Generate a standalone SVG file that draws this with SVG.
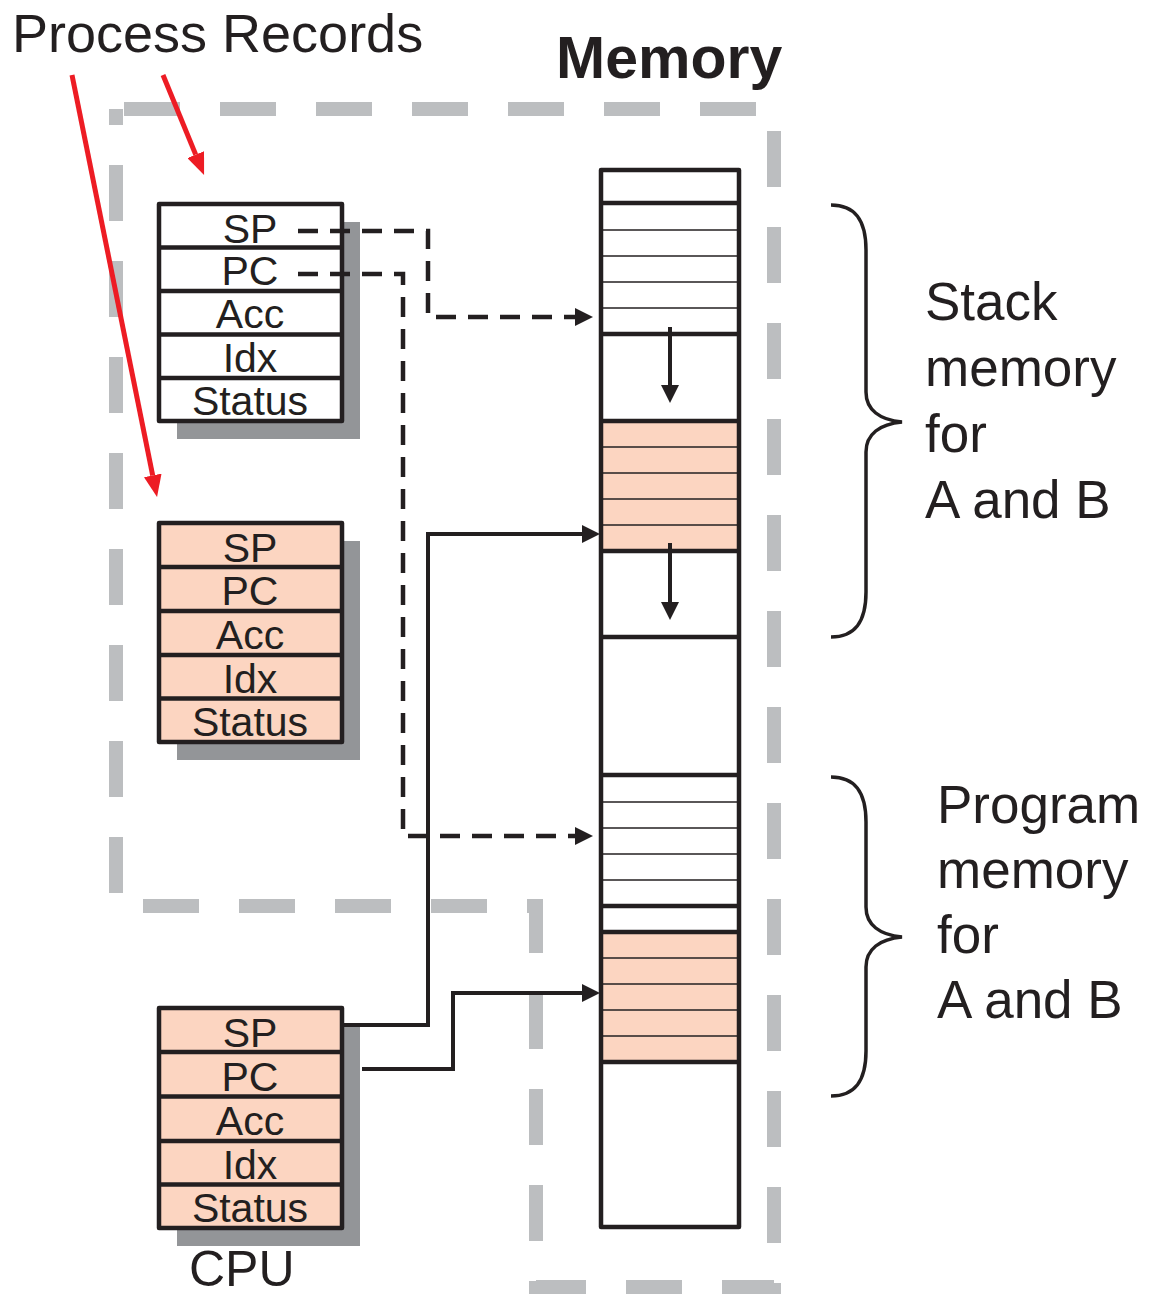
<svg xmlns="http://www.w3.org/2000/svg" width="1152" height="1299" viewBox="0 0 1152 1299">
<style>
.bg{fill:#ffffff}
.border{fill:none;stroke:#bcbec0;stroke-width:14;stroke-dasharray:56 40;stroke-dashoffset:88}
.shadow{fill:#939598}
.box{stroke:#231f20;stroke-width:4.5;stroke-linejoin:round}
.white{fill:#ffffff}
.peach{fill:#fcd5c1}
.div{stroke:#231f20;stroke-width:4.5}
.thin{stroke:#231f20;stroke-width:1.6}
.reg{font-family:"Liberation Sans",Arial,sans-serif;font-size:41px;fill:#231f20;text-anchor:middle}
.lbl{font-family:"Liberation Sans",Arial,sans-serif;font-size:53px;fill:#231f20}
.title{font-family:"Liberation Sans",Arial,sans-serif;font-size:59px;font-weight:bold;fill:#231f20}
.dash{fill:none;stroke:#231f20;stroke-width:4.5;stroke-dasharray:20 12}
.solid{fill:none;stroke:#231f20;stroke-width:4}
.red{fill:none;stroke:#ed1c24;stroke-width:5}
.brace{fill:none;stroke:#231f20;stroke-width:3.5}
</style>
<defs>
<marker id="ah" viewBox="0 0 18 18" refX="0" refY="9" markerWidth="18" markerHeight="18" markerUnits="userSpaceOnUse" orient="auto">
<path d="M0,0 L18,9 L0,18 Z" fill="#231f20"/>
</marker>
<marker id="ahr" viewBox="0 0 22 18" refX="0" refY="9" markerWidth="22" markerHeight="18" markerUnits="userSpaceOnUse" orient="auto">
<path d="M0,0 L22,9 L0,18 Z" fill="#ed1c24"/>
</marker>
</defs>
<rect class="bg" x="0" y="0" width="1152" height="1299"/>

<g id="memory-boundary">
<path class="border" d="M116,109 H774 V1287 H536 V906 H116 Z"/>
</g>

<g id="labels">
<text class="lbl" x="12" y="52" style="font-size:54px">Process Records</text>
<text class="title" x="556" y="78">Memory</text>
<text class="lbl" x="189" y="1286" style="font-size:50px">CPU</text>
</g>

<g id="record-A" transform="translate(0,204)">
<rect class="shadow" x="177" y="18" width="183" height="217"/>
<rect class="box white" x="159" y="0" width="183" height="217"/>
<line class="div" x1="159" y1="43.5" x2="342" y2="43.5"/>
<line class="div" x1="159" y1="87" x2="342" y2="87"/>
<line class="div" x1="159" y1="130.5" x2="342" y2="130.5"/>
<line class="div" x1="159" y1="174" x2="342" y2="174"/>
<text class="reg" x="250" y="39">SP</text>
<text class="reg" x="250" y="81">PC</text>
<text class="reg" x="250" y="124">Acc</text>
<text class="reg" x="250" y="168">Idx</text>
<text class="reg" x="250" y="211">Status</text>
</g>

<g id="record-B" transform="translate(0,523)">
<rect class="shadow" x="177" y="18" width="183" height="219"/>
<rect class="box peach" x="159" y="0" width="183" height="219"/>
<line class="div" x1="159" y1="44" x2="342" y2="44"/>
<line class="div" x1="159" y1="88" x2="342" y2="88"/>
<line class="div" x1="159" y1="132" x2="342" y2="132"/>
<line class="div" x1="159" y1="175.5" x2="342" y2="175.5"/>
<text class="reg" x="250" y="39">SP</text>
<text class="reg" x="250" y="82">PC</text>
<text class="reg" x="250" y="126">Acc</text>
<text class="reg" x="250" y="170">Idx</text>
<text class="reg" x="250" y="213">Status</text>
</g>

<g id="cpu" transform="translate(0,1008)">
<rect class="shadow" x="177" y="18" width="183" height="220"/>
<rect class="box peach" x="159" y="0" width="183" height="220"/>
<line class="div" x1="159" y1="44" x2="342" y2="44"/>
<line class="div" x1="159" y1="88.5" x2="342" y2="88.5"/>
<line class="div" x1="159" y1="133" x2="342" y2="133"/>
<line class="div" x1="159" y1="176.5" x2="342" y2="176.5"/>
<text class="reg" x="250" y="39">SP</text>
<text class="reg" x="250" y="83">PC</text>
<text class="reg" x="250" y="127">Acc</text>
<text class="reg" x="250" y="171">Idx</text>
<text class="reg" x="250" y="214">Status</text>
</g>

<g id="memory">
<rect class="white" x="601" y="170" width="138" height="1057"/>
<rect class="peach" x="601" y="421" width="138" height="130"/>
<rect class="peach" x="601" y="932" width="138" height="130"/>
<line class="thin" x1="601" y1="230" x2="739" y2="230"/>
<line class="thin" x1="601" y1="256" x2="739" y2="256"/>
<line class="thin" x1="601" y1="282" x2="739" y2="282"/>
<line class="thin" x1="601" y1="308" x2="739" y2="308"/>
<line class="thin" x1="601" y1="447" x2="739" y2="447"/>
<line class="thin" x1="601" y1="473" x2="739" y2="473"/>
<line class="thin" x1="601" y1="499" x2="739" y2="499"/>
<line class="thin" x1="601" y1="525" x2="739" y2="525"/>
<line class="thin" x1="601" y1="802" x2="739" y2="802"/>
<line class="thin" x1="601" y1="828" x2="739" y2="828"/>
<line class="thin" x1="601" y1="854" x2="739" y2="854"/>
<line class="thin" x1="601" y1="880" x2="739" y2="880"/>
<line class="thin" x1="601" y1="958" x2="739" y2="958"/>
<line class="thin" x1="601" y1="984" x2="739" y2="984"/>
<line class="thin" x1="601" y1="1010" x2="739" y2="1010"/>
<line class="thin" x1="601" y1="1036" x2="739" y2="1036"/>
<line class="div" x1="601" y1="203" x2="739" y2="203"/>
<line class="div" x1="601" y1="334" x2="739" y2="334"/>
<line class="div" x1="601" y1="421" x2="739" y2="421"/>
<line class="div" x1="601" y1="551" x2="739" y2="551"/>
<line class="div" x1="601" y1="637" x2="739" y2="637"/>
<line class="div" x1="601" y1="775" x2="739" y2="775"/>
<line class="div" x1="601" y1="906" x2="739" y2="906"/>
<line class="div" x1="601" y1="932" x2="739" y2="932"/>
<line class="div" x1="601" y1="1062" x2="739" y2="1062"/>
<rect class="box" fill="none" x="601" y="170" width="138" height="1057"/>
<path class="solid" d="M670,327 V385" marker-end="url(#ah)"/>
<path class="solid" d="M670,543 V602" marker-end="url(#ah)"/>
</g>

<g id="braces">
<path class="brace" d="M831,205 C855,205 866,220 866,250 L866,392 C866,410 880,420 902,422 C880,424 866,434 866,452 L866,592 C866,622 855,637 831,637"/>
<path class="brace" d="M831,777 C855,777 866,792 866,822 L866,907 C866,925 880,935 902,937 C880,939 866,949 866,967 L866,1051 C866,1081 855,1096 831,1096"/>
<text class="lbl" x="925" y="320">Stack</text>
<text class="lbl" x="925" y="386">memory</text>
<text class="lbl" x="925" y="452">for</text>
<text class="lbl" x="925" y="518">A and B</text>
<text class="lbl" x="937" y="823">Program</text>
<text class="lbl" x="937" y="888">memory</text>
<text class="lbl" x="937" y="953">for</text>
<text class="lbl" x="937" y="1018">A and B</text>
</g>

<g id="connectors">
<path class="dash" d="M298,231 H428 V317 H575" marker-end="url(#ah)"/>
<path class="dash" d="M298,274 H403 V836 H575" marker-end="url(#ah)"/>
<path class="solid" d="M343,1025 H428 V534 H582" marker-end="url(#ah)"/>
<path class="solid" d="M362,1069 H453 V993 H582" marker-end="url(#ah)"/>
<path class="red" d="M72,75 L152.7,475.4" marker-end="url(#ahr)"/>
<path class="red" d="M163,75 L195.7,154.6" marker-end="url(#ahr)"/>
</g>
</svg>
